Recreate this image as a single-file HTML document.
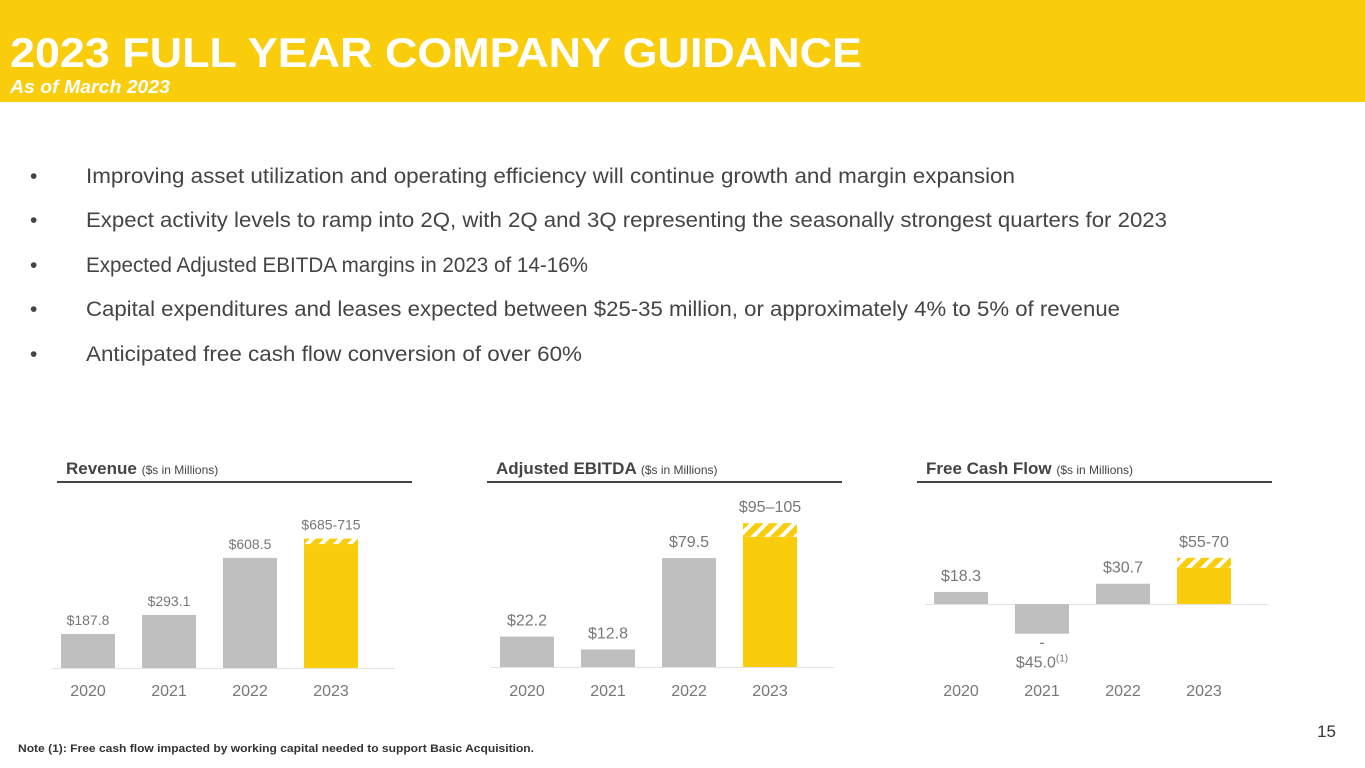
<!DOCTYPE html>
<html><head><meta charset="utf-8"><style>
html,body{margin:0;padding:0;background:#fff}
svg{display:block;font-family:"Liberation Sans",sans-serif}
</style></head><body>
<svg id="s" width="1365" height="768" viewBox="0 0 1365 768">
<defs>
<pattern id="hatch" patternUnits="userSpaceOnUse" width="10" height="10" patternTransform="rotate(45)">
<rect width="10" height="10" fill="#F9CD0C"/><rect width="4" height="10" fill="#fff"/>
</pattern>
</defs>
<rect x="0" y="0" width="1365" height="102" fill="#F9CD0C"/>
<text x="10" y="67" font-size="42" font-weight="bold" fill="#fff" textLength="852" lengthAdjust="spacingAndGlyphs">2023 FULL YEAR COMPANY GUIDANCE</text>
<text x="10" y="93" font-size="18" font-weight="bold" font-style="italic" fill="#fff" textLength="160" lengthAdjust="spacingAndGlyphs">As of March 2023</text>
<g fill="#444" font-size="21">
<text x="30" y="183">•</text><text x="86" y="183" textLength="929" lengthAdjust="spacingAndGlyphs">Improving asset utilization and operating efficiency will continue growth and margin expansion</text>
<text x="30" y="227">•</text><text x="86" y="227" textLength="1081" lengthAdjust="spacingAndGlyphs">Expect activity levels to ramp into 2Q, with 2Q and 3Q representing the seasonally strongest quarters for 2023</text>
<text x="30" y="272">•</text><text x="86" y="272" textLength="502" lengthAdjust="spacingAndGlyphs">Expected Adjusted EBITDA margins in 2023 of 14-16%</text>
<text x="30" y="316">•</text><text x="86" y="316" textLength="1034" lengthAdjust="spacingAndGlyphs">Capital expenditures and leases expected between $25-35 million, or approximately 4% to 5% of revenue</text>
<text x="30" y="361">•</text><text x="86" y="361" textLength="496" lengthAdjust="spacingAndGlyphs">Anticipated free cash flow conversion of over 60%</text>
</g>
<text x="18" y="752" font-size="11" font-weight="bold" fill="#333" textLength="516" lengthAdjust="spacingAndGlyphs">Note (1): Free cash flow impacted by working capital needed to support Basic Acquisition.</text>
<text x="1336" y="737" font-size="17" fill="#333" text-anchor="end">15</text>
<g id="charts"></g>
</svg>
<script>
const years = ["2020","2021","2022","2023"];
const revenueValues = [187.8, 293.1, 608.5];
const revenueRange = [685, 715];
const revenueLabels = ["$187.8","$293.1","$608.5","$685-715"];
const ebitdaValues = [22.2, 12.8, 79.5];
const ebitdaRange = [95, 105];
const ebitdaLabels = ["$22.2","$12.8","$79.5","$95–105"];
const fcfValues = [18.3, -45.0, 30.7];
const fcfRange = [55, 70];
const fcfLabels = ["$18.3","$45.0","$30.7","$55-70"];

const NS = "http://www.w3.org/2000/svg";
const root = document.getElementById("charts");
function mk(tag, attrs, parent){const e=document.createElementNS(NS,tag);for(const k in attrs)e.setAttribute(k,attrs[k]);(parent||root).appendChild(e);return e;}

const charts = [
 {name:"revenue", title:"Revenue", x0:57, off:4, base:668, scale:0.181, vals:revenueValues, range:revenueRange, labels:revenueLabels, fs:14, labelGap:9},
 {name:"ebitda", title:"Adjusted EBITDA", x0:487, off:13, base:667, scale:1.37, vals:ebitdaValues, range:ebitdaRange, labels:ebitdaLabels, fs:16, labelGap:11},
 {name:"fcf", title:"Free Cash Flow", x0:917, off:17, base:604, scale:0.66, vals:fcfValues, range:fcfRange, labels:fcfLabels, fs:16, labelGap:11}
];
charts.forEach(c=>{
  const g = mk("g",{});
  
  
  const t = mk("text",{x:c.x0+9,y:474,"font-size":17,"font-weight":"bold",fill:"#444"},g);
  
  
  t.textContent = c.title+" ";
  const ts = mk("tspan",{"font-size":12,"font-weight":"normal"},t); ts.textContent="($s in Millions)";
  const ul = mk("line",{x1:c.x0,x2:c.x0+355,y1:482,y2:482,stroke:"#444","stroke-width":2},g);
  
  
  const bx = i => c.x0+c.off+i*81;
  const y = v => c.base - v*c.scale;
  const ax = mk("line",{x1:c.x0+c.off-9,x2:c.x0+c.off+334,y1:c.base+0.5,y2:c.base+0.5,stroke:"#e2e2e2","stroke-width":1},g);
  
  
  years.forEach((yr,i)=>{
    const x = bx(i);
    let top, labelY;
    if(i<3){
      const v=c.vals[i];
      const r = mk("rect",{x:x,y:Math.min(y(v),c.base),width:54,height:Math.abs(v*c.scale),fill:"#BFBFBF"},g);
      
      
      top = v>=0 ? y(v) : null;
      if(v<0){
        const d = mk("text",{x:x+27,y:c.base-v*c.scale+14,"font-size":c.fs,fill:"#777","text-anchor":"middle"},g);
        d.textContent="-";
        labelY = c.base-v*c.scale+34;
      } else labelY = top-c.labelGap;
    } else {
      const lo=c.range[0], hi=c.range[1];
      const r = mk("rect",{x:x,y:y(lo),width:54,height:lo*c.scale,fill:"#F9CD0C"},g);
      
      
      const h = mk("rect",{x:x,y:y(hi),width:54,height:(hi-lo)*c.scale,fill:"url(#hatch)"},g);
      
      
      labelY = y(hi)-c.labelGap;
    }
    const l = mk("text",{x:x+27,y:labelY,"font-size":c.fs,fill:"#777","text-anchor":"middle"},g);
    
    
    l.textContent = c.labels[i];
    if(c.name==="fcf" && i===1){const sp=mk("tspan",{"font-size":10,dy:-6},l);sp.textContent="(1)";}
    const yl = mk("text",{x:x+27,y:696,"font-size":16,fill:"#777","text-anchor":"middle"},g);
    
    
    yl.textContent = yr;
  });
});
</script>
</body></html>
